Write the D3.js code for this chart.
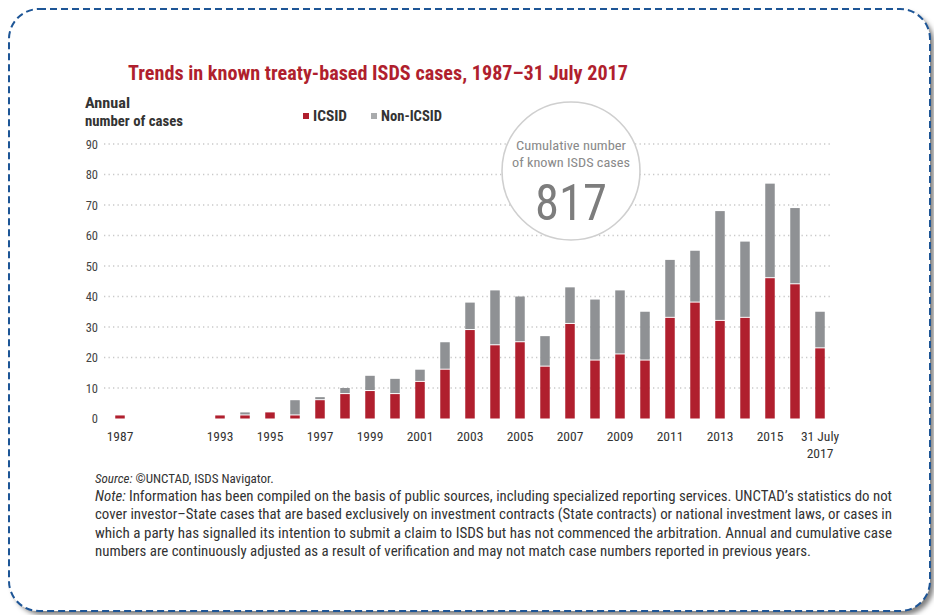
<!DOCTYPE html>
<html>
<head>
<meta charset="utf-8">
<script src="https://cdn.jsdelivr.net/npm/d3@7/dist/d3.min.js"></script>
<style>
  html, body { margin: 0; padding: 0; background: #fff; }
  svg { display: block; }
</style>
</head>
<body>
<svg id="chart" width="934" height="615"></svg>
<script>
// Annual known treaty-based ISDS cases
const years = ["1987", "1993", "1994", "1995", "1996", "1997", "1998", "1999", "2000",
  "2001", "2002", "2003", "2004", "2005", "2006", "2007", "2008", "2009", "2010",
  "2011", "2012", "2013", "2014", "2015", "2016", "31 July 2017"];
const icsid = [1, 1, 1, 2, 1, 6, 8, 9, 8, 12, 16, 29, 24, 25, 17, 31, 19, 21, 19, 33, 38, 32, 33, 46, 44, 23];
const nonIcsid = [0, 0, 1, 0, 5, 1, 2, 5, 5, 4, 9, 9, 18, 15, 10, 12, 20, 21, 16, 19, 17, 36, 25, 31, 25, 12];
const seriesNames = ["ICSID", "Non-ICSID"];
const yTicks = [0, 10, 20, 30, 40, 50, 60, 70, 80, 90];
const xTickLabels = ["1987", "1993", "1995", "1997", "1999", "2001", "2003", "2005",
  "2007", "2009", "2011", "2013", "2015", "31 July 2017"];
const cumulativeTotal = 817;

const titleText = "Trends in known treaty-based ISDS cases, 1987\u201331 July 2017";
const noteLines = [
  "Information has been compiled on the basis of public sources, including specialized reporting services. UNCTAD\u2019s statistics do not",
  "cover investor\u2013State cases that are based exclusively on investment contracts (State contracts) or national investment laws, or cases in",
  "which a party has signalled its intention to submit a claim to ISDS but has not commenced the arbitration. Annual and cumulative case",
  "numbers are continuously adjusted as a result of verification and may not match case numbers reported in previous years."
];
const noteWidths = [797, 797, 797, 716];

const RED = "#b01f2e";
const GREY = "#8f9194";
const FONT = '"Liberation Sans Narrow", "Roboto Condensed", "DejaVu Sans Condensed", "Liberation Sans", sans-serif';

const svg = d3.select("#chart");

// Dashed rounded frame with a soft drop shadow
const defs = svg.append("defs");
const shadow = defs.append("filter").attr("id", "shadow")
  .attr("x", "-5%").attr("y", "-5%").attr("width", "110%").attr("height", "110%");
shadow.append("feDropShadow").attr("dx", 4).attr("dy", 4).attr("stdDeviation", 2.5)
  .attr("flood-color", "#000").attr("flood-opacity", 0.5);

svg.append("rect")
  .attr("x", 9).attr("y", 9).attr("width", 921).attr("height", 602)
  .attr("rx", 30).attr("ry", 30)
  .attr("fill", "#fff").attr("filter", "url(#shadow)");
svg.append("rect")
  .attr("x", 9).attr("y", 9).attr("width", 921).attr("height", 602)
  .attr("rx", 30).attr("ry", 30)
  .attr("fill", "none").attr("stroke", "#1d5596")
  .attr("stroke-width", 2).attr("stroke-dasharray", "7,4");

// Title
svg.append("text")
  .attr("x", 128).attr("y", 80)
  .attr("font-family", FONT).attr("font-weight", "bold").attr("font-size", 20.5)
  .attr("fill", RED)
  .attr("textLength", 500).attr("lengthAdjust", "spacingAndGlyphs")
  .text(titleText);

// Scales: the 1988-1992 stretch is left as three empty slots after 1987
const slots = [years[0], "gap-a", "gap-b", "gap-c", ...years.slice(1)];
const x = d3.scaleBand().domain(slots).range([107.5, 832.5])
  .paddingInner(0.62).paddingOuter(0.31);
const y = d3.scaleLinear().domain([0, 90]).range([418.5, 144]);

// Dotted gridlines
svg.append("g").selectAll("line")
  .data(yTicks.filter(d => d > 0))
  .join("line")
  .attr("x1", 104).attr("x2", 832)
  .attr("y1", d => y(d)).attr("y2", d => y(d))
  .attr("stroke", "#c9c9c9").attr("stroke-width", 1.3)
  .attr("stroke-dasharray", "1.3,3.2");

// Y axis labels
const yAxis = svg.append("g").attr("transform", "translate(98,0)")
  .call(d3.axisLeft(y).tickValues(yTicks).tickSize(0).tickPadding(0));
yAxis.select(".domain").remove();
yAxis.selectAll("text")
  .attr("font-family", FONT).attr("font-size", 12.5).attr("fill", "#444")
  .attr("dy", "0.35em");

// Y axis title
const yTitle = svg.append("text").attr("font-family", FONT).attr("font-weight", "bold")
  .attr("font-size", 14).attr("fill", "#333");
yTitle.append("tspan").attr("x", 85).attr("y", 108).attr("textLength", 45)
  .attr("lengthAdjust", "spacingAndGlyphs").text("Annual");
yTitle.append("tspan").attr("x", 85).attr("y", 126).attr("textLength", 98)
  .attr("lengthAdjust", "spacingAndGlyphs").text("number of cases");

// Stacked bars
const rows = years.map((yr, i) => ({ key: yr, icsid: icsid[i], non: nonIcsid[i] }));
const bars = svg.append("g");
bars.selectAll("rect.icsid")
  .data(rows).join("rect").attr("class", "icsid")
  .attr("x", d => x(d.key)).attr("width", x.bandwidth())
  .attr("y", d => y(d.icsid)).attr("height", d => y(0) - y(d.icsid))
  .attr("fill", RED);
bars.selectAll("rect.non")
  .data(rows.filter(d => d.non > 0)).join("rect").attr("class", "non")
  .attr("x", d => x(d.key)).attr("width", x.bandwidth())
  .attr("y", d => y(d.icsid + d.non))
  .attr("height", d => Math.max(0, y(d.icsid) - y(d.icsid + d.non) - 1))
  .attr("fill", GREY);

// X axis labels
const xAxis = svg.append("g").attr("transform", `translate(0,${y(0)})`)
  .call(d3.axisBottom(x).tickValues(xTickLabels).tickSize(0).tickPadding(0));
xAxis.select(".domain").remove();
xAxis.selectAll("text")
  .attr("font-family", FONT).attr("font-size", 13.5).attr("fill", "#333")
  .attr("y", 22.5).attr("dy", 0)
  .each(function (d) {
    const parts = d.match(/^(31 July) (\d{4})$/);
    if (parts) {
      const t = d3.select(this).text(null);
      t.append("tspan").attr("x", 0).attr("y", 22.5).text(parts[1]);
      t.append("tspan").attr("x", 0).attr("y", 39).text(parts[2]);
    }
  });

// Legend
const legend = svg.append("g").attr("font-family", FONT).attr("font-weight", "bold")
  .attr("font-size", 14).attr("fill", "#333");
const legendItems = [
  { name: seriesNames[0], color: RED, x: 303, w: 34 },
  { name: seriesNames[1], color: "#a9abad", x: 371, w: 61 }
];
legendItems.forEach(it => {
  legend.append("rect").attr("x", it.x).attr("y", 113).attr("width", 6).attr("height", 6)
    .attr("fill", it.color);
  legend.append("text").attr("x", it.x + 10).attr("y", 121)
    .attr("textLength", it.w).attr("lengthAdjust", "spacingAndGlyphs").text(it.name);
});

// Cumulative badge
const badge = svg.append("g").attr("transform", "translate(571,171)");
badge.append("circle").attr("r", 69).attr("fill", "#fff")
  .attr("stroke", "#cfcfcf").attr("stroke-width", 1.6);
badge.append("text").attr("text-anchor", "middle").attr("y", -21)
  .attr("font-family", FONT).attr("font-size", 13.5).attr("fill", "#8a8a8a")
  .attr("textLength", 110).attr("lengthAdjust", "spacingAndGlyphs")
  .text("Cumulative number");
badge.append("text").attr("text-anchor", "middle").attr("y", -4.5)
  .attr("font-family", FONT).attr("font-size", 13.5).attr("fill", "#8a8a8a")
  .attr("textLength", 118).attr("lengthAdjust", "spacingAndGlyphs")
  .text("of known ISDS cases");
badge.append("text").attr("text-anchor", "middle").attr("y", 49)
  .attr("font-family", FONT).attr("font-size", 50).attr("fill", "#7d7d7d")
  .attr("textLength", 72).attr("lengthAdjust", "spacingAndGlyphs")
  .text(d3.format("d")(cumulativeTotal));

// Source and note
const notes = svg.append("g").attr("font-family", FONT).attr("font-size", 14).attr("fill", "#333");
const src = notes.append("text").attr("x", 95).attr("y", 483).attr("font-size", 13);
src.append("tspan").attr("font-style", "italic").text("Source:");
src.append("tspan").attr("dx", 3).text("\u00A9UNCTAD, ISDS Navigator.");

noteLines.forEach((line, i) => {
  const t = notes.append("text").attr("x", 95).attr("y", 501 + i * 18.3)
    .attr("textLength", noteWidths[i]).attr("lengthAdjust", "spacingAndGlyphs");
  if (i === 0) {
    t.append("tspan").attr("font-style", "italic").text("Note: ");
  }
  t.append("tspan").text(line);
});
</script>
</body>
</html>
